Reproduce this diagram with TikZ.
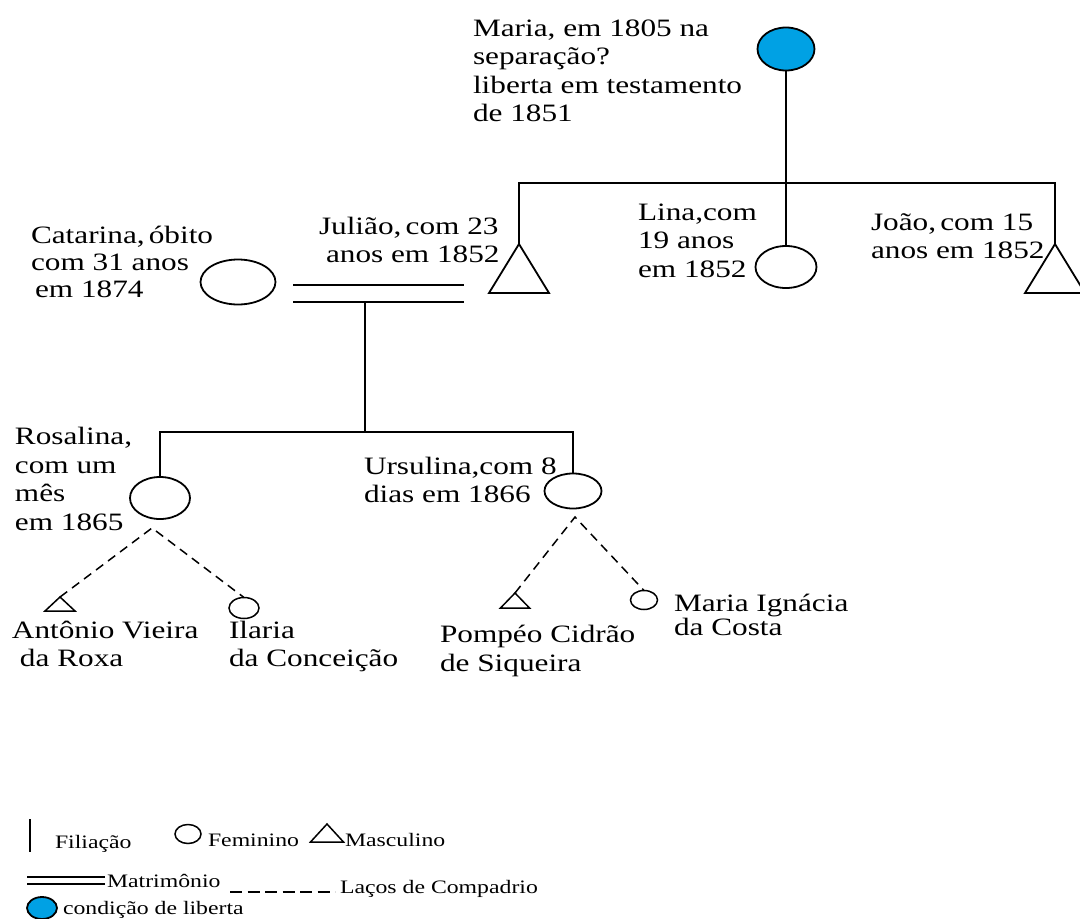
\documentclass[tikz,border=0pt]{standalone}
\usepackage{fontspec}
\setmainfont{Liberation Serif}[FakeStretch=1.25]
\usetikzlibrary{shapes.geometric}
\definecolor{liberta}{RGB}{0,161,228}

\begin{document}
\begin{tikzpicture}[
        x=1pt, y=-1pt,
        line width=1.8pt,
        every node/.style={inner sep=0pt, outer sep=0pt},
        fem/.style={draw, ellipse},
        rotulo/.style={anchor=base west, align=left, font=\fontsize{25}{28.5}\selectfont},
        legenda/.style={anchor=base west, font=\fontsize{19}{22}\selectfont},
        compadrio/.style={dash pattern=on 9pt off 6pt, line width=1.5pt},
        casamento/.style={double, double distance=15pt, line width=1.8pt}
    ]
    \useasboundingbox (0,0) rectangle (1080,919);

    % Maria e os filhos (rotulos pela linha de base da ultima linha)
    \node[fem, fill=liberta, minimum width=57pt, minimum height=43pt] (maria) at (786,49) {};
    \node[rotulo] (mariaTxt) at (473,121.5) {Maria, em 1805 na\\separação?\\liberta em testamento\\de 1851};
    \coordinate (irmaos) at (786,183);
    \coordinate (juliao) at (519,244);
    \coordinate (joao) at (1055,244);
    \node[fem, minimum width=61pt, minimum height=42pt] (lina) at (786,267) {};
    \draw (maria.south) -- (irmaos) -- (lina.north);
    \draw (juliao) |- (irmaos) -| (joao);
    \draw (juliao) -- ++(30,49) -- ++(-60,0) -- cycle;
    \draw (joao) -- ++(30,49) -- ++(-60,0) -- cycle;
    \node[rotulo] (linaTxt) at (638,277) {Lina,com\\19 anos\\em 1852};
    \node[rotulo] (joaoTxt) at (871,258.5) {João,\,com 15\\anos em 1852};
    \node[rotulo] (juliaoTxt) at (319,262.5) {Julião,\,com 23\\\hspace*{7pt}anos em 1852};

    % Catarina e Julião
    \node[rotulo, font=\fontsize{25}{27}\selectfont] (catTxt) at (31,297) {Catarina,\,óbito\\com 31 anos\\\hspace*{4pt}em 1874};
    \node[fem, minimum width=75pt, minimum height=45pt] (catarina) at (238,282) {};
    \coordinate (casE) at (293,293.5);
    \coordinate (casD) at (464,293.5);
    \draw[casamento] (casE) -- (casD);
    \coordinate (casM) at (365,302);
    \coordinate (filhas) at (365,432);
    \node[fem, minimum width=60pt, minimum height=42pt] (rosalina) at (160,498) {};
    \node[fem, minimum width=57pt, minimum height=35pt] (ursulina) at (573,491) {};
    \draw (casM) -- (filhas);
    \draw (rosalina.north) |- (filhas) -| (ursulina.north);
    \node[rotulo] (rosTxt) at (15,530) {Rosalina,\\com um\\mês\\em 1865};
    \node[rotulo] (ursTxt) at (364,502.5) {Ursulina,com 8\\dias em 1866};

    % compadrio
    \coordinate (rosC) at (152,528);
    \coordinate (antonio) at (60,597);
    \node[fem, line width=1.5pt, minimum width=30pt, minimum height=21pt] (ilaria) at (244,608) {};
    \draw[compadrio] (antonio) -- (rosC) -- (ilaria.north);
    \draw[line width=1.5pt] (antonio) -- ++(15,14) -- ++(-30,0) -- cycle;
    \coordinate (ursC) at (575,517);
    \coordinate (pompeo) at (515,593);
    \node[fem, line width=1.5pt, minimum width=27pt, minimum height=19pt] (ignacia) at (644,600) {};
    \draw[compadrio] (pompeo) -- (ursC) -- (ignacia.north);
    \draw[line width=1.5pt] (pompeo) -- ++(14.5,15) -- ++(-29,0) -- cycle;
    \node[rotulo] (antTxt) at (12,666.5) {Antônio Vieira\\\hspace*{8pt}da Roxa};
    \node[rotulo] (ilaTxt) at (229,666.5) {Ilaria\\da Conceição};
    \node[rotulo] (pomTxt) at (440,671) {Pompéo Cidrão\\de Siqueira};
    \node[rotulo, font=\fontsize{25}{24.5}\selectfont] (ignTxt) at (674,635.5) {Maria Ignácia\\da Costa};

    % legenda
    \coordinate (legFilA) at (30,819);
    \coordinate (legFilB) at (30,852);
    \draw (legFilA) -- (legFilB);
    \node[legenda] (legFil) at (55,848) {Filiação};
    \node[fem, line width=1.5pt, minimum width=26pt, minimum height=19pt] (legFem) at (188,834) {};
    \node[legenda] (legFemTxt) at (208,846) {Feminino};
    \coordinate (legMasc) at (327,824);
    \draw[line width=1.5pt] (legMasc) -- ++(16.5,18) -- ++(-33,0) -- cycle;
    \node[legenda] (legMascTxt) at (345,846) {Masculino};
    \coordinate (legCasE) at (27,880.5);
    \coordinate (legCasD) at (105,880.5);
    \draw[casamento, line width=1.3pt, double distance=5.5pt] (legCasE) -- (legCasD);
    \node[legenda] (legCas) at (107,887) {Matrimônio};
    \coordinate (legCompE) at (230,892);
    \coordinate (legCompD) at (335,892);
    \draw[compadrio, line width=2pt, dash pattern=on 12pt off 5.5pt] (legCompE) -- (legCompD);
    \node[legenda] (legComp) at (340,893) {Laços de Compadrio};
    \node[fem, fill=liberta, minimum width=30pt, minimum height=22pt] (legLib) at (42,908) {};
    \node[legenda] (legLibTxt) at (63,914) {condição de liberta};
\end{tikzpicture}
\end{document}
